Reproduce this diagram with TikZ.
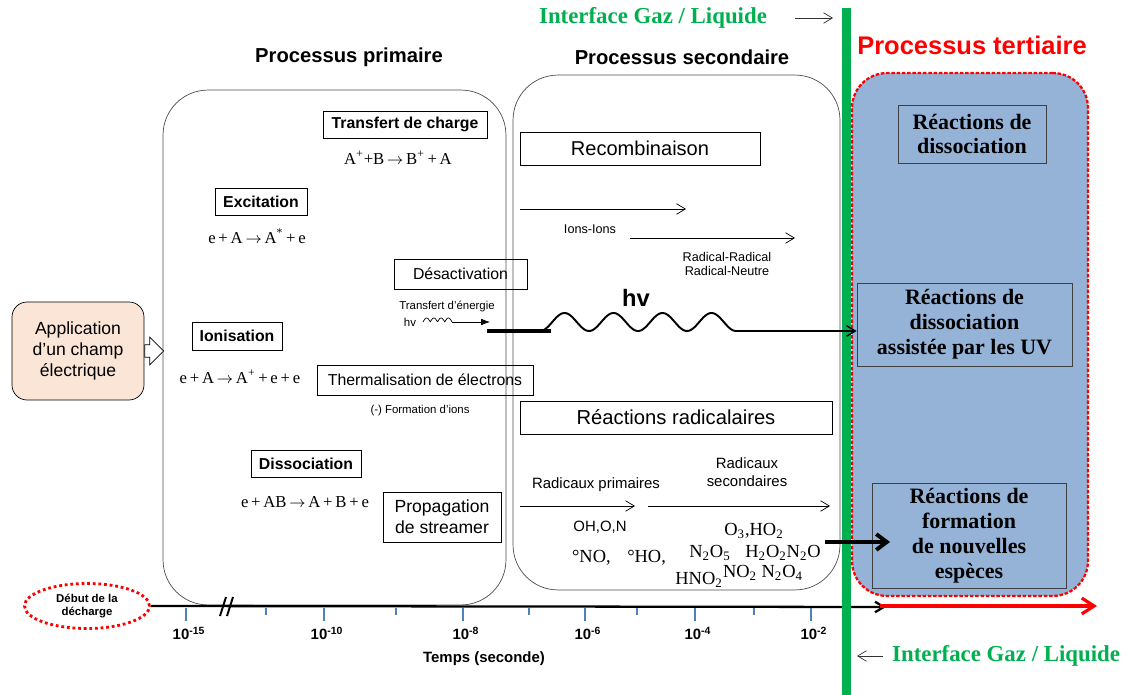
\documentclass[tikz,border=0pt]{standalone}
\usepackage{fontspec}
\setmainfont{Liberation Sans}
\newfontfamily\tnr{Liberation Serif}
\usetikzlibrary{arrows.meta, shapes.geometric, shapes.arrows}
\definecolor{gazgreen}{HTML}{00B050}
\definecolor{terblue}{HTML}{95B3D7}
\definecolor{appfill}{HTML}{FBE5D6}
\definecolor{tickblue}{HTML}{4F81BD}
\newcommand\fsz[2]{\fontsize{#1}{#2}\selectfont}

\begin{document}
\begin{tikzpicture}[x=0.02cm, y=-0.02cm,
  box/.style={draw, inner sep=0pt, align=center},
  bbox/.style={box, font=\bfseries\fsz{9}{11}},
  rbox/.style={box, font=\fsz{9}{11}},
  eqn/.style={font=\tnr\fsz{9.5}{11}},
  smalltxt/.style={font=\fsz{6.5}{8}, inner sep=0pt},
  lbl/.style={font=\fsz{7.2}{8.2}, align=center, inner sep=0pt},
  chem/.style={font=\tnr\fsz{10.5}{12}, inner sep=0pt},
  phase/.style={draw=black!70, rounded corners=0.9cm, inner sep=0pt},
  terbox/.style={draw=black!75, fill=terblue, inner sep=0pt, align=center, font=\tnr\bfseries\fsz{12.5}{14.2}},
  phasetitle/.style={font=\bfseries\fsz{11.5}{13}},
  iface/.style={text=gazgreen, font=\tnr\bfseries\fsz{13}{15}},
  ticklab/.style={font=\bfseries\fsz{8.5}{10}},
  >={Straight Barb[length=5pt, width=6pt]}
]
  \useasboundingbox (0,0) rectangle (1128,695);

  % Titles of the three phases
  \node[phasetitle] (tprim) at (349, 57) {Processus primaire};
  \node[phasetitle] (tsec)  at (682, 57) {Processus secondaire};
  \node[phasetitle, text=red, font=\bfseries\fsz{14.5}{16}] (tter) at (972, 45) {Processus tertiaire};

  % Phase frames
  \node[phase, minimum width=6.86cm, minimum height=10.3cm] (prim) at (334.5, 347.5) {};
  \node[phase, minimum width=6.54cm, minimum height=10.3cm] (sec)  at (676.5, 332.5) {};
  \node[fill=terblue, draw=red, line width=1.3pt, dash pattern=on 2pt off 1pt,
        rounded corners=0.7cm, inner sep=0pt, minimum width=4.72cm, minimum height=10.46cm] (ter) at (970, 334.5) {};

  % Source of the discharge
  \node[draw, fill=appfill, rounded corners=0.3cm, inner sep=0pt, minimum width=2.64cm,
        minimum height=1.96cm, align=center, font=\fsz{10}{11.7}] (app) at (78, 351)
        {Application\\d'un champ\\électrique};
  \node[single arrow, draw, fill=white, inner xsep=0pt, inner ysep=0.12cm, minimum height=0.38cm,
        single arrow head extend=0.15cm, single arrow head indent=0pt, anchor=tail] (push) at (app.east) {};

  % Primary processes
  \node[bbox, minimum width=3.28cm, minimum height=0.54cm] (tch) at (405, 124.5) {Transfert de charge};
  \node[eqn] (eqtch) at (398, 158) {A\textsuperscript{+}+B\,$\rightarrow$\,B\textsuperscript{+}\,+\,A};
  \node[bbox, minimum width=1.84cm, minimum height=0.54cm] (exc) at (261, 201.5) {Excitation};
  \node[eqn] (eqexc) at (257, 236) {e\,+\,A\,$\rightarrow$\,A\textsuperscript{*}\,+\,e};
  \node[rbox, minimum width=2.66cm, minimum height=0.6cm] (des) at (460.5, 274) {Désactivation};
  \node[smalltxt] (tre) at (447, 306) {Transfert d'énergie};
  \node[smalltxt] (hvs) at (410, 322) {hv};
  \node[bbox, minimum width=1.8cm, minimum height=0.56cm] (ion) at (237, 336) {Ionisation};
  \node[eqn] (eqion) at (240, 377) {e\,+\,A\,$\rightarrow$\,A\textsuperscript{+}\,+\,e\,+\,e};
  \node[rbox, minimum width=4.32cm, minimum height=0.6cm] (therm) at (425, 380) {Thermalisation de électrons};
  \node[smalltxt] (fions) at (420, 411) {(-) Formation d'ions};
  \node[bbox, minimum width=2.2cm, minimum height=0.54cm] (dis) at (306, 463.5) {Dissociation};
  \node[eqn] (eqdis) at (305, 502) {e\,+\,AB\,$\rightarrow$\,A\,+\,B\,+\,e};
  \node[box, minimum width=2.36cm, minimum height=1cm, font=\fsz{10}{12}] (prop) at (442, 517) {Propagation\\de streamer};

  % Secondary processes
  \node[box, minimum width=4.8cm, minimum height=0.66cm, font=\fsz{11.4}{13}] (rec) at (640, 148.5) {Recombinaison};
  \coordinate (ia) at (520, 209);
  \coordinate (ib) at (686, 209);
  \coordinate (ra) at (630, 238);
  \coordinate (rb) at (795, 238);
  \draw[->] (ia) -- (ib);
  \draw[->] (ra) -- (rb);
  \node[lbl] (ions) at (590, 229) {Ions-Ions};
  \node[lbl] (radrad) at (727, 264) {Radical-Radical\\Radical-Neutre};
  \node[font=\bfseries\fsz{13.5}{15}] (hvb) at (636, 298) {hv};
  \node[box, minimum width=6.24cm, minimum height=0.66cm, font=\fsz{11.5}{13}] (rrad) at (676, 417.5) {Réactions radicalaires};
  \node[font=\fsz{8.5}{10}, inner sep=0pt] (rprim) at (596, 485) {Radicaux primaires};
  \node[font=\fsz{8.5}{10.2}, align=center, inner sep=0pt] (rsec) at (747, 472) {Radicaux\\secondaires};
  \coordinate (pa) at (520, 506);
  \coordinate (pb) at (635, 506);
  \coordinate (sa) at (648, 506);
  \coordinate (sb) at (830, 506);
  \draw[->] (pa) -- (pb);
  \draw[->] (sa) -- (sb);
  \node[font=\fsz{8.5}{10}, inner sep=0pt] (ohon) at (600, 527) {OH,O,N};
  \node[chem] (radio) at (619, 558) {°NO,\hspace{0.9em}°HO,};
  \node[chem] (c1) at (754, 531) {O\textsubscript{3},HO\textsubscript{2}};
  \node[chem] (c2) at (755, 553) {N\textsubscript{2}O\textsubscript{5}\hspace{0.8em}H\textsubscript{2}O\textsubscript{2}N\textsubscript{2}O};
  \node[chem] (c3) at (699, 580) {HNO\textsubscript{2}};
  \node[chem] (c4) at (763, 573) {NO\textsubscript{2} N\textsubscript{2}O\textsubscript{4}};

  % Tertiary processes
  \node[terbox, minimum width=2.96cm, minimum height=1.16cm] (rd1) at (972, 134) {Réactions de\\dissociation};
  \node[terbox, minimum width=4.3cm, minimum height=1.66cm] (rd2) at (964.5, 324.5) {Réactions de\\dissociation\\assistée par les UV};
  \node[terbox, minimum width=3.88cm, minimum height=2.1cm] (rd3) at (969, 535.5) {Réactions de\\formation\\de nouvelles\\espèces};

  % Time axis
  \node[ellipse, draw=red, line width=1.6pt, dash pattern=on 1.6pt off 1.6pt, minimum width=2.5cm,
        minimum height=0.9cm, inner sep=0pt, align=center, font=\bfseries\fsz{6.5}{7.5}] (debut) at (87, 606) {Début de la\\décharge};
  \coordinate (tend) at (886, 607);
  \draw[line width=1.3pt, ->] (debut.east) -- (tend);
  \foreach \t in {186, 324, 463, 585, 695, 811}
    \draw[tickblue, thick] (\t, 608) -- (\t, 621);
  \foreach \t in {266, 396, 529, 637, 754}
    \draw[tickblue, thick] (\t, 608) -- (\t, 615);
  \foreach \t/\e [count=\i] in {186/-15, 324/-10, 463/-8, 585/-6, 695/-4, 811/-2}
    \node[ticklab] (tl\i) at (\t+3, 633) {10\textsuperscript{\e}};
  \node[ticklab] (temps) at (484, 659) {Temps (seconde)};
  \draw[line width=1.1pt] (226, 597) -- (220, 616);
  \draw[line width=1.1pt] (233, 597) -- (227, 616);

  % Gas/liquid interface
  \draw[gazgreen, line width=0.18cm] (846, 8) -- (846, 695);
  \node[iface] (ifup) at (653, 18) {Interface Gaz / Liquide};
  \node[iface, anchor=west] (ifdown) at (886, 656) {Interface Gaz / Liquide};
  \coordinate (iua) at (795, 18);
  \coordinate (iub) at (833, 18);
  \coordinate (ida) at (883, 656);
  \coordinate (idb) at (857, 656);
  \draw[->, black!80] (iua) -- (iub);
  \draw[->, black!80] (ida) -- (idb);
  \coordinate (ra0) at (880, 606);
  \coordinate (ra1) at (1097, 606);
  \draw[red, line width=1.8pt, -{Straight Barb[length=7pt, width=9pt]}] (ra0) -- (ra1);

  % Energy transfer by photons
  \draw[thin] plot[domain=423:452, samples=60] (\x, {322 - 4*abs(sin((\x-423)*24.83))});
  \coordinate (zz) at (452, 322);
  \coordinate (zt) at (490, 322);
  \draw[-{Latex[length=5pt]}] (zz) -- (zt);
  \coordinate (w0) at (487, 331);
  \coordinate (w1) at (551, 331);
  \draw[line width=2.2pt] (w0) -- (w1);
  \draw[line width=1.1pt] plot[domain=540:736, samples=160, smooth] (\x, {331 - 9*(1-cos((\x-540)*7.347))});
  \coordinate (wend) at (736, 331);
  \draw[thick, ->] (wend) -- (wend -| rd2.west);

  % Products go to the liquid
  \coordinate (na) at (825, 542);
  \coordinate (nb) at (890, 542);
  \draw[line width=2.2pt, -{Straight Barb[length=6pt, width=9pt]}] (na) -- (nb);
\end{tikzpicture}
\end{document}
